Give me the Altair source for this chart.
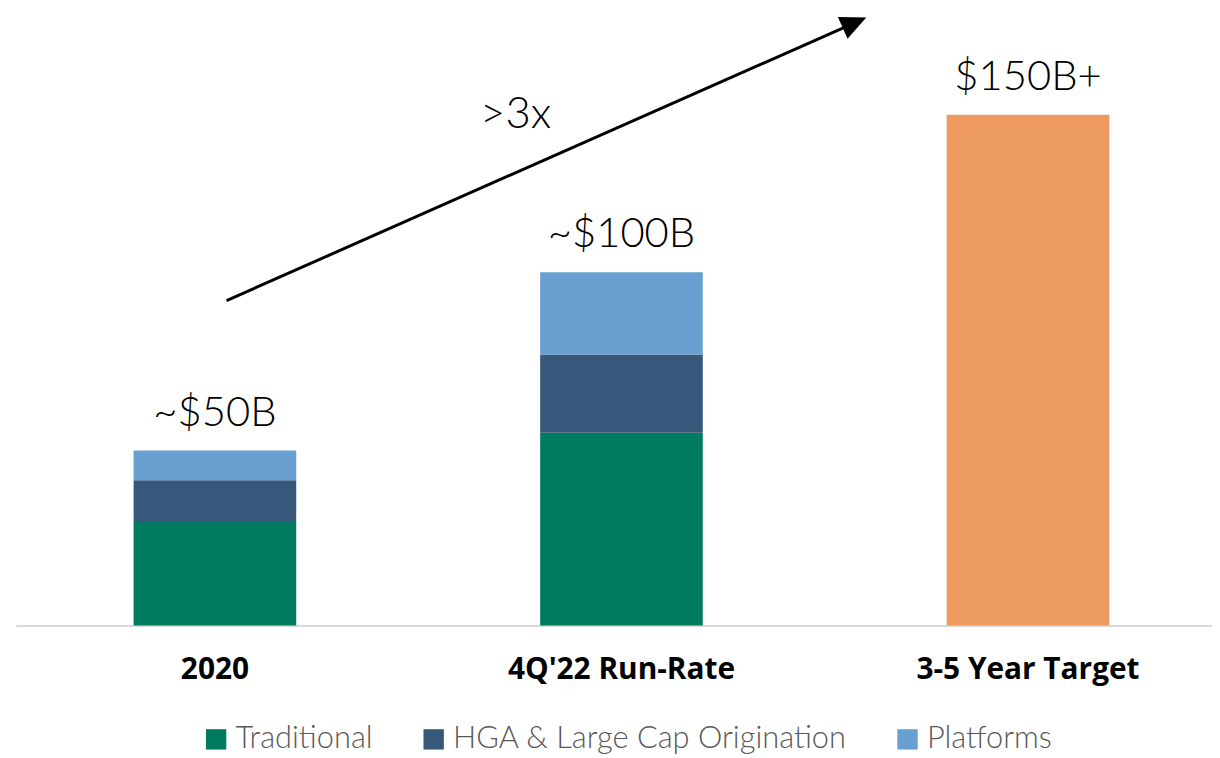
import altair as alt
import pandas as pd

categories = ["2020", "4Q'22 Run-Rate", "3-5 Year Target"]
series = ["Traditional", "HGA & Large Cap Origination", "Platforms", "Target"]
traditional = [29.4, 54.8, 0.0]
hga = [11.9, 22.3, 0.0]
platforms = [8.5, 23.4, 0.0]
target = [0.0, 0.0, 145.3]
totals = [49.8, 100.5, 145.3]
labels = ["~$50B", "~$100B", "$150B+"]
colors = ["#007B5F", "#37587A", "#699FD1", "#EC9A60"]
growth_label = ">3x"

rows = []
for i, c in enumerate(categories):
    for k, (s, vals) in enumerate(zip(series, [traditional, hga, platforms, target])):
        if vals[i] > 0:
            rows.append({"category": c, "series": s, "value": vals[i], "rank": k})
df = pd.DataFrame(rows)
lab_df = pd.DataFrame({"category": categories, "total": totals, "label": labels})

FONT = "Open Sans"
LIGHT = "Lato"

xenc = alt.X("category:N", sort=categories, title=None,
             scale=alt.Scale(paddingInner=0.6, paddingOuter=0.271, align=0.534),
             axis=alt.Axis(labelAngle=0, ticks=False, labelFontSize=30, labelFontWeight="bold",
                           labelColor="#000000", labelFont=FONT, labelPadding=29,
                           domainColor="#D9D9D9", domainWidth=2, labelLimit=400))
yscale = alt.Scale(domain=[0, 175], nice=False)

bars = alt.Chart(df).mark_bar().encode(
    x=xenc,
    y=alt.Y("value:Q", stack="zero", scale=yscale, axis=None),
    color=alt.Color("series:N", scale=alt.Scale(domain=series, range=colors),
                    legend=alt.Legend(values=series[:3], title=None, orient="none",
                                      legendX=186, legendY=718, direction="horizontal",
                                      symbolType="square", symbolSize=420, symbolStrokeWidth=0,
                                      labelFontSize=31, labelFont=LIGHT, labelFontWeight=300,
                                      labelColor="#595959", labelLimit=600, labelOffset=4,
                                      columnPadding=45)),
    order=alt.Order("rank:Q", sort="ascending"),
)

text = alt.Chart(lab_df).mark_text(baseline="alphabetic", dy=-25, fontSize=42, font=LIGHT,
                                   fontWeight=300, color="#000000").encode(
    x=alt.X("category:N", sort=categories),
    y=alt.Y("total:Q", scale=yscale),
    text="label:N",
)

one = pd.DataFrame({"t": [growth_label]})
arrow_line = alt.Chart(one).mark_rule(color="#000000", strokeWidth=3).encode(
    x=alt.value(212), y=alt.value(292), x2=alt.value(834), y2=alt.value(17))
arrow_head = alt.Chart(one).mark_point(shape="M0,0 L-1,-0.46 L-1,0.46 Z", filled=True,
                                       color="#000000", opacity=1, size=2704, angle=336,
                                       strokeWidth=0).encode(
    x=alt.value(856), y=alt.value(7))
growth = alt.Chart(one).mark_text(fontSize=44, font=LIGHT, fontWeight=300, color="#000000",
                                  baseline="middle").encode(
    x=alt.value(503), y=alt.value(105), text="t:N")

chart = alt.layer(bars, text, arrow_line, arrow_head, growth).properties(
    width=1204, height=619,
    autosize=alt.AutoSizeParams(type="none"),
    padding={"left": 8, "top": 0, "right": 0, "bottom": 131},
).configure(font=FONT, background="white").configure_view(stroke=None)

chart.save("out.html", embed_options={"renderer": "svg", "actions": False})
